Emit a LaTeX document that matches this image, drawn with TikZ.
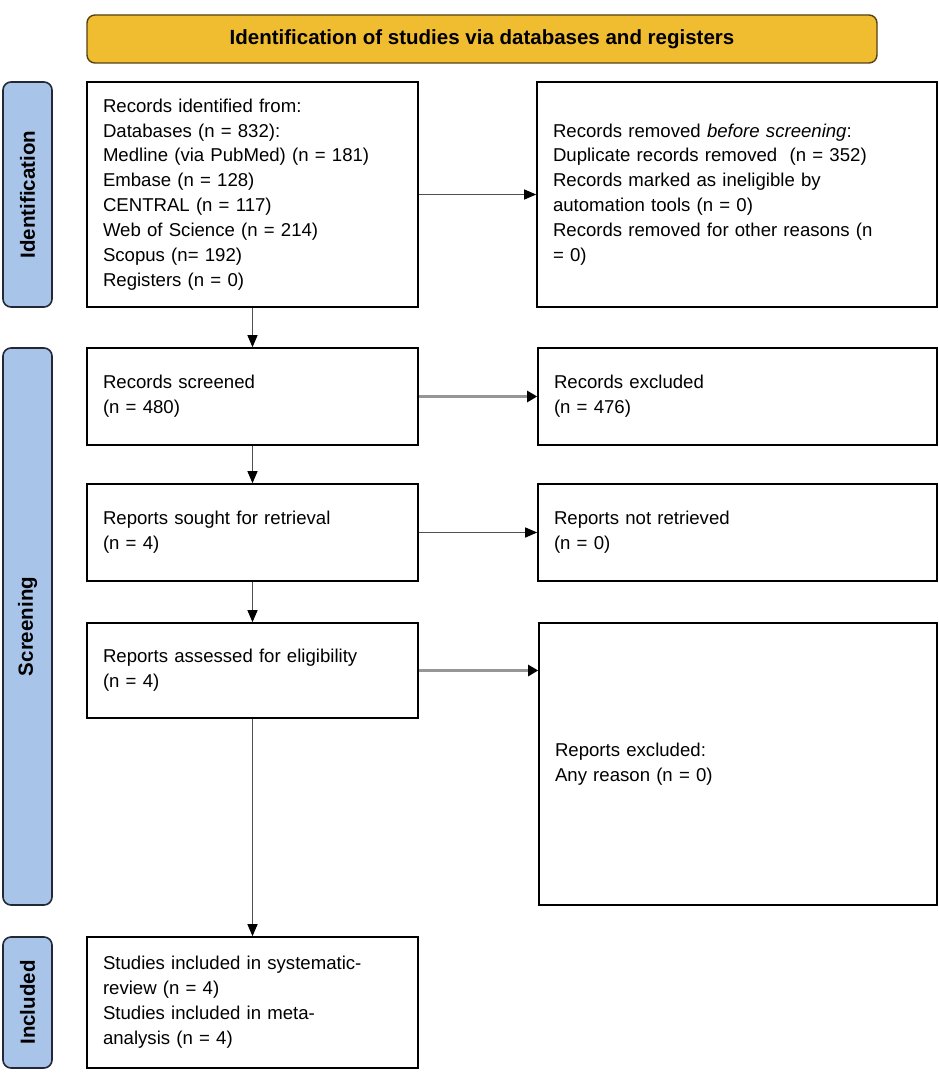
\documentclass[tikz,border=0pt]{standalone}
\usepackage{fontspec}
\setmainfont{Liberation Sans}
\usetikzlibrary{arrows.meta}
\definecolor{bannerfill}{RGB}{240,188,48}
\definecolor{bannerdraw}{RGB}{85,65,20}
\definecolor{sidefill}{RGB}{169,196,233}
\definecolor{sidedraw}{RGB}{35,40,55}
\definecolor{arrowgray}{RGB}{80,80,80}
\definecolor{lightarrow}{RGB}{150,150,150}
\begin{document}
\begin{tikzpicture}[x=1pt,y=-1pt,
  box/.style={draw=black, line width=1.6pt, rectangle, inner xsep=16pt, inner ysep=0pt,
    align=left, font=\fontsize{18.6}{24.9}\selectfont},
  sidebar/.style={draw=sidedraw, fill=sidefill, line width=1.6pt, rounded corners=8pt,
    font=\fontsize{20.5}{24}\selectfont\bfseries, inner sep=0pt},
  banner/.style={draw=bannerdraw, fill=bannerfill, line width=1.4pt, rounded corners=8pt,
    font=\fontsize{20.5}{24}\selectfont\bfseries, inner sep=0pt},
  flow/.style={draw=arrowgray, line width=1.2pt, -{Triangle[length=12pt,width=10pt,color=black]}},
  sideflow/.style={draw=lightarrow, line width=2.4pt, -{Triangle[length=10pt,width=11pt,color=black]}}
]
\useasboundingbox (0,0) rectangle (939,1089);
\fill[white] (0,0) rectangle (939,1089);

\node[banner, minimum width=790pt, minimum height=48pt] (ban) at (482,39)
  {Identification of studies via databases and registers};

\node[sidebar, minimum width=225pt, minimum height=49pt, rotate=90] (sid) at (27.5,194.5) {Identification};
\node[sidebar, minimum width=557pt, minimum height=49pt, rotate=90] (sscr) at (27.5,626.5) {Screening};
\node[sidebar, minimum width=131pt, minimum height=49pt, rotate=90] (sinc) at (27.5,1002.5) {Included};

\node[box, text width=299pt, minimum height=225pt] (b1) at (252.5,194.5)
  {Records identified from:\\Databases (n = 832):\\Medline (via PubMed) (n = 181)\\Embase (n = 128)\\CENTRAL (n = 117)\\Web of Science (n = 214)\\Scopus (n= 192)\\Registers (n = 0)};
\node[box, text width=368pt, minimum height=225pt] (b2) at (737,194.5)
  {Records removed \textit{before screening}:\\Duplicate records removed\ \ (n = 352)\\Records marked as ineligible by\\automation tools (n = 0)\\Records removed for other reasons (n\\= 0)};

\node[box, text width=299pt, minimum height=97pt] (b3) at (252.5,396.5)
  {Records screened\\(n = 480)};
\node[box, text width=367pt, minimum height=97pt] (b3x) at (737.5,396.5)
  {Records excluded\\(n = 476)};

\node[box, text width=299pt, minimum height=97pt] (b4) at (252.5,532.5)
  {Reports sought for retrieval\\(n = 4)};
\node[box, text width=367pt, minimum height=97pt] (b4x) at (737.5,532.5)
  {Reports not retrieved\\(n = 0)};

\node[box, text width=299pt, minimum height=95pt] (b5) at (252.5,670.5)
  {Reports assessed for eligibility\\(n = 4)};
\node[box, text width=366pt, minimum height=282pt] (b6) at (738,764)
  {Reports excluded:\\Any reason (n = 0)};

\node[box, text width=299pt, minimum height=131pt] (b7) at (252.5,1002.5)
  {Studies included in systematic-\\review (n = 4)\\Studies included in meta-\\analysis (n = 4)};

\draw[flow] (b1) -- (b2);
\draw[flow] (b1) -- (b3);
\draw[sideflow] (b3) -- (b3x);
\draw[flow] (b3) -- (b4);
\draw[flow] (b4) -- (b4x);
\draw[flow] (b4) -- (b5);
\draw[sideflow] (b5.east) -- (b5.east -| b6.west);
\draw[flow] (b5) -- (b7);
\end{tikzpicture}
\end{document}
